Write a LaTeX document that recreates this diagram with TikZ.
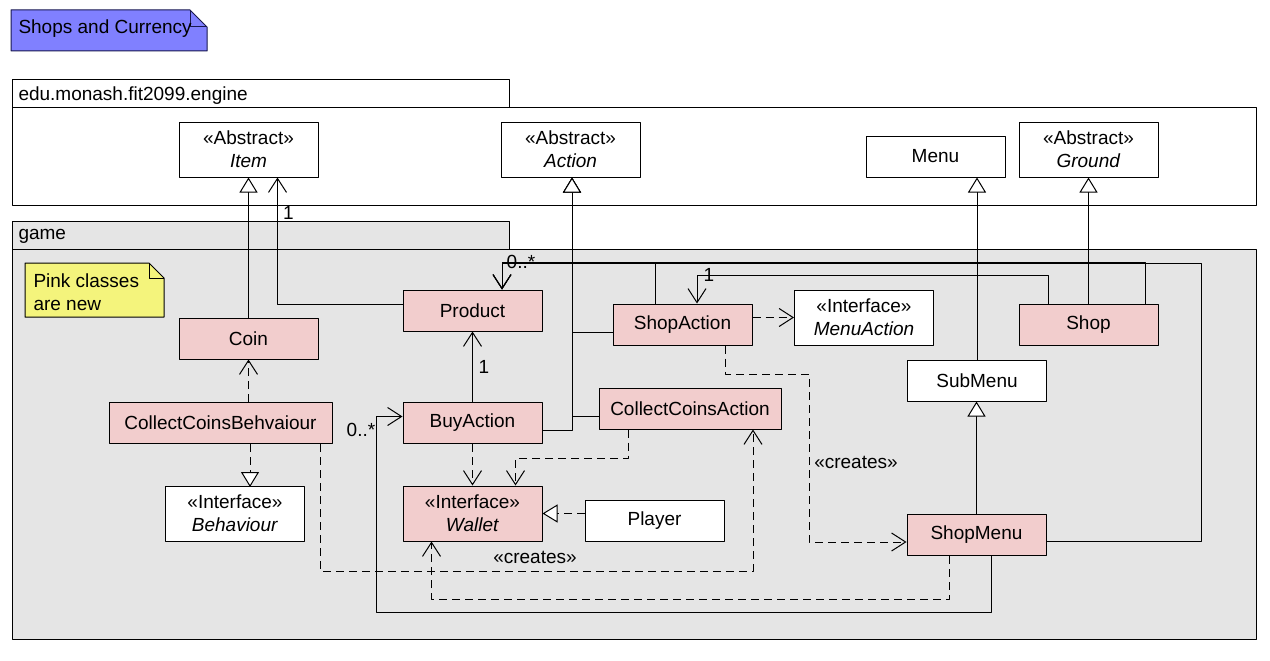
\documentclass[tikz,border=0pt]{standalone}
\usepackage{fontspec}
\setmainfont{Liberation Sans}
\usetikzlibrary{arrows.meta,calc,positioning}
\definecolor{classpink}{RGB}{242,205,205}
\definecolor{packagegray}{RGB}{229,229,229}
\definecolor{noteyellow}{RGB}{244,244,124}
\definecolor{titleblue}{RGB}{128,128,255}
\definecolor{titlenavy}{RGB}{25,25,80}

\begin{document}
\begin{tikzpicture}[x=1pt,y=-1pt,line width=1pt,line join=round,
  >={Straight Barb[length=14pt,width=18pt]},
  font=\fontsize{19}{23}\selectfont,
  umlclass/.style={draw,fill=white,minimum width=139pt,minimum height=41pt,inner sep=0pt,align=center},
  newclass/.style={umlclass,fill=classpink},
  tall/.style={minimum height=55pt},
  gen/.style={-{Triangle[length=15pt,width=18pt,fill=white]}},
  real/.style={gen,dash pattern=on 8pt off 5pt},
  assoc/.style={->},
  dep/.style={->,dash pattern=on 8pt off 5pt},
  mult/.style={inner sep=1pt},
  pkglabel/.style={anchor=west,inner sep=0pt}]
\useasboundingbox (0,0) rectangle (1270,661);
\fill[white] (0,0) rectangle (1270,661);
% Notatka tytułowa i pakiety.
\draw[titlenavy,fill=titleblue] (11,10) -- (190,10) -- (207,27) -- (207,51) -- (11,51) -- cycle;
\draw[titlenavy] (190,10) -- (190,27) -- (207,27);
\node[pkglabel] (title) at (18,29) {Shops and Currency};
\draw[fill=white] (12,80) rectangle (509,108);
\draw[fill=white] (12,108) rectangle (1256,205);
\node[pkglabel] (engineLabel) at (18,96) {edu.monash.fit2099.engine};
\draw[fill=packagegray] (12,221) rectangle (509,249);
\draw[fill=packagegray] (12,249) rectangle (1256,639);
\node[pkglabel] (gameLabel) at (18,236) {game};
\draw[fill=noteyellow] (25,263) -- (149,263) -- (164,278) -- (164,317) -- (25,317) -- cycle;
\draw (149,263) -- (149,278) -- (164,278);
\node[pkglabel,align=left] (newNote) at (33,292) {Pink classes\\are new};
% Klasy silnika i gry.
\node[umlclass,tall] (item) at (248.5,149.5) {«Abstract»\\\textit{Item}};
\node[umlclass,tall] (action) at (570.5,149.5) {«Abstract»\\\textit{Action}};
\node[umlclass] (menu) at (935.5,156.5) {Menu};
\node[umlclass,tall] (ground) at (1088.5,149.5) {«Abstract»\\\textit{Ground}};
\node[newclass] (coin) at (248.5,338.5) {Coin};
\node[newclass] (product) at (472.5,310.5) {Product};
\node[newclass] (shopAction) at (682.5,324.5) {ShopAction};
\node[umlclass,tall] (menuAction) at (864,317.5) {«Interface»\\\textit{MenuAction}};
\node[newclass] (shop) at (1088.5,324.5) {Shop};
\node[umlclass] (subMenu) at (977,380.5) {SubMenu};
\node[newclass,minimum width=223pt] (collectBeh) at (220.5,423) {CollectCoinsBehvaiour};
\node[newclass] (buyAction) at (472.5,423) {BuyAction};
\node[newclass,minimum width=182pt] (collectAct) at (690,408.5) {CollectCoinsAction};
\node[umlclass,tall] (behaviour) at (235,513.5) {«Interface»\\\textit{Behaviour}};
\node[newclass,tall] (wallet) at (472.5,513.5) {«Interface»\\\textit{Wallet}};
\node[umlclass] (player) at (654.5,521) {Player};
\node[newclass] (shopMenu) at (976.5,535) {ShopMenu};
% Dziedziczenie i realizacja.
\draw[gen] (coin) -- (item);
\draw[gen] ([yshift=-8pt]shopAction.west) -| ([xshift=1.5pt]action.south);
\draw[gen] ([yshift=-7pt]buyAction.east) -| ([xshift=1.5pt]action.south);
\draw[gen] ([yshift=-8pt]collectAct.west) -| ([xshift=1.5pt]action.south);
\draw[gen] (subMenu.north) -- (subMenu.north |- menu.south);
\draw[gen] (shopMenu.north) -- (shopMenu.north |- subMenu.south);
\draw[gen] (shop) -- (ground);
\draw[real] ([xshift=29.5pt]collectBeh.south) -- ++(0,43);
\draw[real] (player.west |- wallet.east) -- (wallet.east);
% Asocjacje.
\coordinate (railR) at (1201,263);
\coordinate (railL) at (376,612);
\draw[assoc] ([yshift=6.5pt]product.west) -| ([xshift=29pt]item.south);
\draw[assoc] (buyAction) -- (product);
\draw[assoc] ([xshift=56.5pt]shop.north) -- ++(0,-41) -| ([xshift=29.5pt]product.north);
\draw[assoc] ([xshift=-27pt]shopAction.north) -- ++(0,-41) -| ([xshift=29.5pt]product.north);
\draw[assoc] ([yshift=-6pt]shopMenu.east) -| (railR) -| ([xshift=29.5pt]product.north);
\draw[assoc] ([xshift=-40.5pt]shop.north) -- ++(0,-28) -| ([xshift=14.5pt]shopAction.north);
\draw[assoc] ([xshift=15pt]shopMenu.south) |- (railL) |- ([yshift=6.5pt]buyAction.west);
\node[mult] (multItem) at (288.5,212.5) {1};
\node[mult] (multProduct) at (521,262) {0..*};
\node[mult] (multShopAction) at (709,275) {1};
\node[mult] (multBuyProduct) at (484,367) {1};
\node[mult] (multBuyAction) at (361,430) {0..*};
% Zależności.
\coordinate (createsBend) at (809,374);
\draw[dep] (coin.south |- collectBeh.north) -- (coin.south);
\draw[dep] (shopAction.east |- menuAction.west) -- (menuAction.west);
\draw[dep] ([xshift=43pt]shopAction.south) |- (createsBend) |- ([yshift=-7pt]shopMenu.west);
\draw[dep] ([xshift=99.5pt]collectBeh.south) -- ++(0,127) -| ([xshift=63pt]collectAct.south);
\draw[dep] (buyAction) -- (wallet);
\draw[dep] ([xshift=-62pt]collectAct.south) -- ++(0,29) -| ([xshift=43pt]wallet.north);
\draw[dep] ([xshift=-27pt]shopMenu.south) -- ++(0,43) -| ([xshift=-41pt]wallet.south);
\node (createsMenu) at (856,462) {«creates»};
\node (createsAction) at (535,557) {«creates»};
\end{tikzpicture}
\end{document}
